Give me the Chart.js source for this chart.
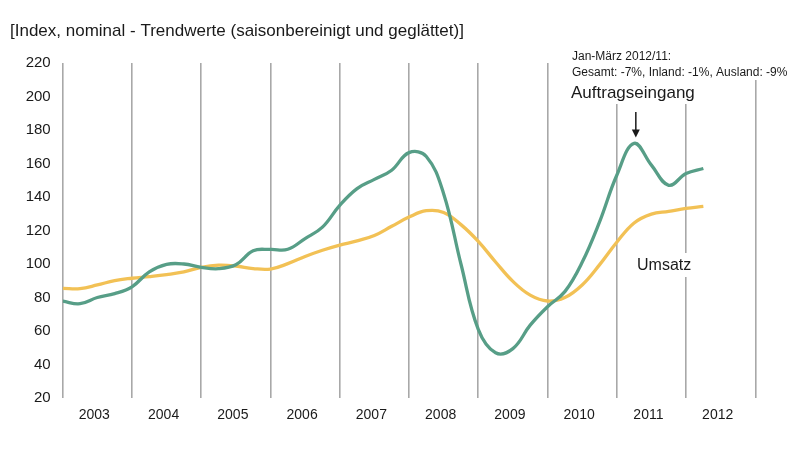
<!DOCTYPE html>
<html>
<head>
<meta charset="utf-8">
<script src="https://cdn.jsdelivr.net/npm/chart.js@4/dist/chart.umd.min.js"></script>
<style>
  html, body { margin: 0; padding: 0; background: #fff; }
  #wrap { width: 800px; height: 450px; position: relative; }
</style>
</head>
<body>
<div id="wrap"><canvas id="chart"></canvas></div>
<script>
// quarterly points, index 0 = start of 2003
const years = ['2003', '2004', '2005', '2006', '2007', '2008', '2009', '2010', '2011', '2012'];
const auftragseingang = [
  77.8, 76.3, 80, 82.3, 86.4, 95.3, 99.8, 100, 98, 97.2,
  99.5, 107.9, 108.7, 108.8, 115.2, 122, 135, 145, 150.5, 156,
  166.5, 164.2, 142, 100, 61, 47, 49.5, 63.5, 74.5, 83.5,
  101, 125, 153, 172, 159, 147, 154, 157
];
const umsatz = [
  85.5, 85.3, 87.5, 90.1, 91.5, 92.5, 93.7, 95.3, 98, 99.3,
  98.8, 97.3, 97, 100.2, 104.5, 108.2, 111.3, 113.8, 117, 122.5,
  128, 131.8, 130.8, 123.5, 113.5, 101.2, 89.6, 81.4, 77.9, 80,
  87.5, 99.5, 113, 124.5, 129.8, 131.4, 133.2, 134.4
];
const yTicks = { min: 20, max: 220, step: 20 };

const FONT = "'Liberation Sans', Arial, sans-serif";
const toPoints = (arr) => arr.map((v, i) => ({ x: i, y: v }));

const annotations = {
  id: 'annotations',
  // white boxes behind the labels hide the grid lines, as in the original
  beforeDatasetsDraw(chart) {
    const { ctx } = chart;
    ctx.save();
    ctx.fillStyle = '#fff';
    ctx.fillRect(566, 46, 226, 34);
    ctx.fillRect(566, 80, 134, 24);
    ctx.fillRect(632, 253, 60, 24);
    ctx.restore();
  },
  afterDraw(chart) {
    const { ctx, scales: { x, y } } = chart;
    ctx.save();
    ctx.fillStyle = '#1a1a1a';
    ctx.textBaseline = 'middle';
    ctx.textAlign = 'left';
    ctx.font = '17px ' + FONT;
    ctx.fillText('[Index, nominal - Trendwerte (saisonbereinigt und geglättet)]', 10, 31);
    ctx.font = '12px ' + FONT;
    ctx.fillText('Jan-März 2012/11:', 572, 57);
    ctx.fillText('Gesamt: -7%, Inland: -1%, Ausland: -9%', 572, 73);
    ctx.font = '17px ' + FONT;
    ctx.fillText('Auftragseingang', 571, 93);
    ctx.font = '16px ' + FONT;
    ctx.fillText('Umsatz', 637, 266);

    // arrow pointing at the 2011 peak
    const ax = x.getPixelForValue(33.1);
    const tipY = y.getPixelForValue(175.5);
    ctx.strokeStyle = '#1a1a1a';
    ctx.lineWidth = 1.5;
    ctx.beginPath();
    ctx.moveTo(ax, 112);
    ctx.lineTo(ax, tipY - 6);
    ctx.stroke();
    ctx.beginPath();
    ctx.moveTo(ax - 4, tipY - 8);
    ctx.lineTo(ax + 4, tipY - 8);
    ctx.lineTo(ax, tipY);
    ctx.closePath();
    ctx.fill();
    ctx.restore();
  }
};

new Chart(document.getElementById('chart').getContext('2d'), {
  type: 'line',
  data: {
    datasets: [
      { label: 'Auftragseingang', data: toPoints(auftragseingang), borderColor: '#579e87', borderWidth: 3.3, pointRadius: 0, tension: 0.4, fill: false },
      { label: 'Umsatz', data: toPoints(umsatz), borderColor: '#f2c155', borderWidth: 3.3, pointRadius: 0, tension: 0.4, fill: false },
    ],
  },
  options: {
    responsive: true, maintainAspectRatio: false, animation: false,
    layout: { padding: { top: 63, right: 44.7, left: 0, bottom: 0 } },
    plugins: { legend: { display: false }, tooltip: { enabled: false }, title: { display: false } },
    scales: {
      x: {
        type: 'linear', min: 0, max: years.length * 4,
        border: { display: false },
        grid: {
          drawTicks: false, lineWidth: 1.6,
          color: (c) => (c.tick && c.tick.value % 4 === 0 ? '#a8a8a8' : 'rgba(0,0,0,0)'),
        },
        afterBuildTicks: (s) => {
          s.ticks = [];
          for (let i = 0; i <= years.length * 4; i += 2) s.ticks.push({ value: i });
        },
        afterFit: (s) => { s.height = 52; },
        ticks: {
          autoSkip: false, maxRotation: 0, padding: 9, labelOffset: -3,
          color: '#1a1a1a', font: { family: FONT, size: 14 },
          callback: (v) => (v % 4 === 2 ? years[(v - 2) / 4] : ''),
        },
      },
      y: {
        min: yTicks.min, max: yTicks.max,
        border: { display: false },
        grid: { display: false, drawTicks: false },
        afterFit: (s) => { s.width = 62.7; },
        ticks: { stepSize: yTicks.step, padding: 12, color: '#1a1a1a', font: { family: FONT, size: 15 } },
      },
    },
  },
  plugins: [annotations],
});
</script>
</body>
</html>
